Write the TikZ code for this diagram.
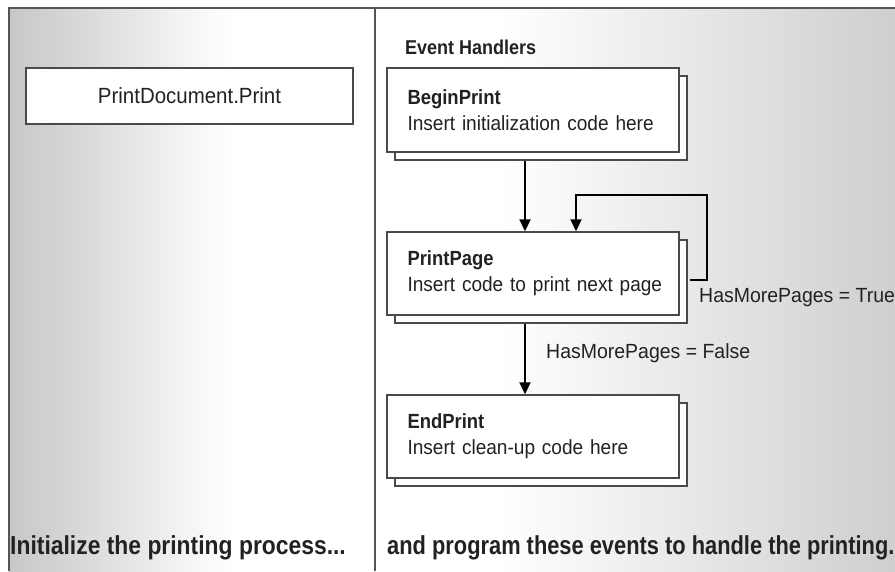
\documentclass[tikz,border=0pt]{standalone}
\usepackage{fontspec}
\setmainfont{Liberation Sans}[FakeStretch=0.93]
\newfontfamily\boxbold{Liberation Sans}[FakeStretch=0.9]
\newfontfamily\labelfont{Liberation Sans}[FakeStretch=0.95]
\newfontfamily\footfont{Liberation Sans}[FakeStretch=0.84]
\newfontfamily\footfontw{Liberation Sans}[FakeStretch=0.88]
\usetikzlibrary{arrows.meta,shadows}
\definecolor{frameline}{HTML}{555555}
\definecolor{boxline}{HTML}{4A4A4A}
\definecolor{txt}{HTML}{222222}
\tikzset{
  evbox/.style={draw=boxline, line width=1.4pt, fill=white, rectangle,
    minimum width=292pt, text width=251pt, inner xsep=20.5pt, inner ysep=0pt,
    align=left, text=txt, font=\fontsize{20.5}{26}\selectfont,
    copy shadow={shadow xshift=8pt, shadow yshift=-8pt, fill=white, draw=boxline, line width=1.4pt}},
  plainbox/.style={draw=boxline, line width=1.4pt, fill=white, rectangle,
    minimum width=327pt, minimum height=56pt, inner sep=0pt, text=txt,
    font=\fontsize{22}{24}\selectfont},
  arr/.style={draw=black, line width=2pt, -{Triangle[length=12pt,width=11pt]}},
  lbl/.style={anchor=west, inner sep=0pt, text=txt, font=\labelfont\fontsize{20.5}{22}\selectfont},
  foot/.style={anchor=west, inner sep=0pt, text=txt, font=\footfont\bfseries\fontsize{26}{28}\selectfont},
  frame/.style={draw=frameline, line width=1.8pt}
}
\begin{document}
\begin{tikzpicture}[x=1pt,y=-1pt]
\useasboundingbox (0,0) rectangle (895,571);
% backgrounds
\fill[white] (0,0) rectangle (895,571);
\shade[left color=black!22, right color=white] (9,8) rectangle (230,571);
\shade[left color=white, right color=black!19] (500,8) rectangle (895,571);
% frame
\draw[frame] (9,571) -- (9,8) -- (895,8);
\draw[frame] (375,8) -- (375,571);
% left panel
\node[plainbox] (pd) at (189.5,96) {PrintDocument.Print};
% right panel
\node[anchor=west, inner sep=0pt, text=txt, font=\boxbold\bfseries\fontsize{20}{24}\selectfont] (eh) at (405,47) {Event Handlers};
\node[evbox, minimum height=84pt] (bp) at (533,110) {\mbox{\boxbold\bfseries BeginPrint}\\\mbox{Insert initialization code here}};
\node[evbox, minimum height=83pt] (pp) at (533,273.5) {\mbox{\boxbold\bfseries PrintPage}\\\mbox{Insert code to print next page}};
\node[evbox, minimum height=83pt] (ep) at (533,436.5) {\mbox{\boxbold\bfseries EndPrint}\\\mbox{Insert clean-up code here}};
% connectors
\draw[arr] ([xshift=-8pt,yshift=-8pt]bp.south) -- ([xshift=-8pt]pp.north);
\coordinate (loop) at (707,195);
\draw[arr] ([xshift=10pt,yshift=-6.5pt]pp.east) -| (loop) -| ([xshift=43pt]pp.north);
\draw[arr] ([xshift=-8pt,yshift=-8pt]pp.south) -- ([xshift=-8pt]ep.north);
\node[lbl] (lt) at (699,298) {HasMorePages = True};
\node[lbl] (lf) at (546,353) {HasMorePages = False};
% footers
\node[foot, font=\footfontw\bfseries\fontsize{26}{28}\selectfont] (f1) at (10,548) {Initialize the printing process...};
\node[foot] (f2) at (387,548) {and program these events to handle the printing.};
\end{tikzpicture}
\end{document}
